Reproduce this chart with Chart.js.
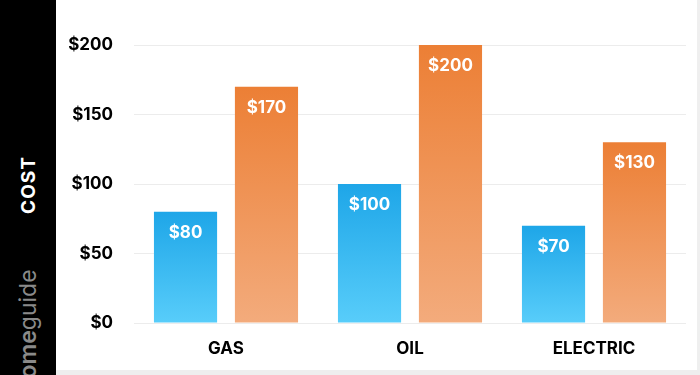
<!DOCTYPE html>
<html>
<head>
<meta charset="utf-8">
<script src="https://cdn.jsdelivr.net/npm/chart.js@4/dist/chart.umd.min.js"></script>
<style>
    html, body { margin: 0; padding: 0; background: #ffffff; }
    #wrap { position: relative; width: 700px; height: 375px; overflow: hidden; background: #ffffff; }
    #side { position: absolute; left: 0; top: 0; width: 56px; height: 375px; background: #000000; overflow: hidden; }
    .vtext { position: absolute; left: 28px; transform: translate(-50%, -50%) rotate(-90deg); white-space: nowrap; }
    #cost { top: 185px; color: #ffffff; font: 700 19px Inter, sans-serif; letter-spacing: 1px; }
    #brand { top: 331px; color: #8a8a8a; font: 400 23px Inter, sans-serif; }
    #brand b { font-weight: 600; }
    #edge { position: absolute; left: 697px; top: 0; width: 3px; height: 375px; background: #efefef; }
    #foot { position: absolute; left: 56px; top: 370px; width: 644px; height: 5px; background: #eeeeee; }
    #box { position: absolute; left: 56px; top: 0; width: 630px; height: 370px; }
</style>
</head>
<body>
<div id="wrap">
    <div id="side">
        <div class="vtext" id="cost">COST</div>
        <div class="vtext" id="brand"><b>home</b>guide</div>
    </div>
    <div id="box"><canvas id="costChart"></canvas></div>
    <div id="edge"></div>
    <div id="foot"></div>
</div>
<script>
// Chart data
const categories = ['GAS', 'OIL', 'ELECTRIC'];
const lowCost = [80, 100, 70];
const highCost = [170, 200, 130];
const yTicks = [0, 50, 100, 150, 200];

// Gradient per bar, from the bar top down to zero
function barGradient(top, bottom) {
    return function(context) {
        const chart = context.chart;
        const yScale = chart.scales.y;
        if (!chart.chartArea || !yScale || context.parsed == null) return top;
        const yTop = yScale.getPixelForValue(context.parsed.y);
        const yBottom = yScale.getPixelForValue(0);
        const grad = chart.ctx.createLinearGradient(0, yTop, 0, yBottom);
        grad.addColorStop(0, top);
        grad.addColorStop(1, bottom);
        return grad;
    };
}

// Value labels drawn inside the top of each bar
const valueLabels = {
    id: 'valueLabels',
    afterDatasetsDraw(chart) {
        const ctx = chart.ctx;
        ctx.save();
        ctx.fillStyle = '#ffffff';
        ctx.font = '700 17px Inter, sans-serif';
        ctx.textAlign = 'center';
        ctx.textBaseline = 'middle';
        chart.data.datasets.forEach((ds, i) => {
            chart.getDatasetMeta(i).data.forEach((bar, j) => {
                ctx.fillText('$' + ds.data[j], bar.x, bar.y + 21);
            });
        });
        ctx.restore();
    }
};

new Chart(document.getElementById('costChart'), {
    type: 'bar',
    data: {
        labels: categories,
        datasets: [
            {
                label: 'Low',
                data: lowCost,
                backgroundColor: barGradient('#1ea6e8', '#58cdfa'),
                borderWidth: 0
            },
            {
                label: 'High',
                data: highCost,
                backgroundColor: barGradient('#ec7f35', '#f3ab7c'),
                borderWidth: 0
            }
        ]
    },
    options: {
        responsive: true,
        maintainAspectRatio: false,
        animation: false,
        categoryPercentage: 0.88,
        barPercentage: 0.78,
        layout: { padding: { top: 45, right: 0, bottom: 0, left: 0 } },
        plugins: {
            legend: { display: false },
            tooltip: { enabled: false }
        },
        scales: {
            x: {
                grid: { display: false },
                border: { display: false },
                ticks: {
                    color: '#000000',
                    font: { family: 'Inter, sans-serif', size: 17, weight: '700' },
                    padding: 8
                },
                afterFit(scale) { scale.height = 47; }
            },
            y: {
                min: 0,
                max: 200,
                afterBuildTicks(scale) {
                    scale.ticks = yTicks.map(v => ({ value: v }));
                },
                grid: { color: '#ececec', lineWidth: 1, drawTicks: false },
                border: { display: false },
                ticks: {
                    color: '#000000',
                    font: { family: 'Inter, sans-serif', size: 17, weight: '700' },
                    padding: 21,
                    callback: v => '$' + v
                },
                afterFit(scale) { scale.width = 78; }
            }
        }
    },
    plugins: [valueLabels]
});
</script>
</body>
</html>
